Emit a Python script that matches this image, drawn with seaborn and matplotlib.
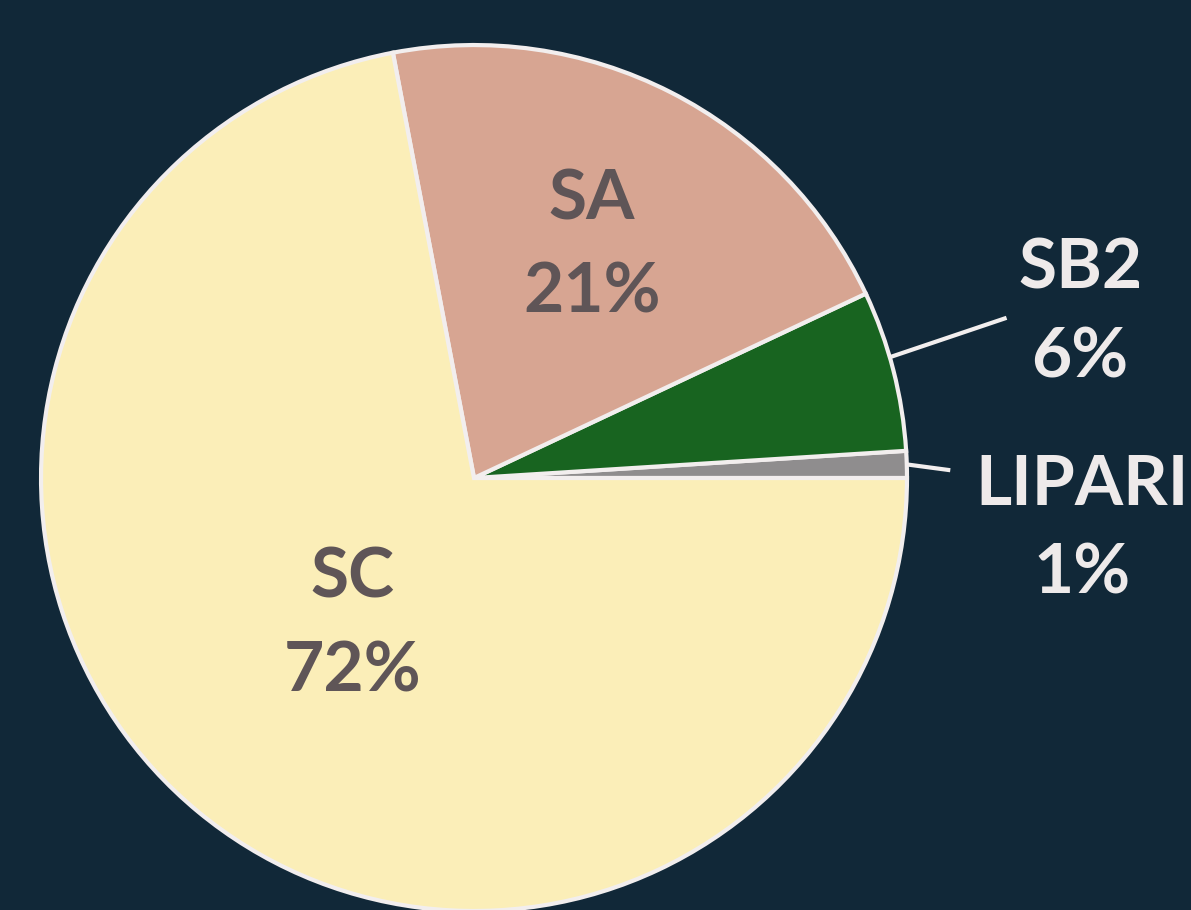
import numpy as np
import matplotlib
matplotlib.use("Agg")
import matplotlib.pyplot as plt
import seaborn as sns

sns.set_theme(style="white")
plt.rcParams['font.family'] = ['Lato', 'DejaVu Sans']

# data (counter-clockwise from 3 o'clock)
categories = ["LIPARI", "SB2", "SA", "SC"]
shares = [1, 6, 21, 72]
colors = ["#8f8d8e", "#186420", "#d7a592", "#fbeeb8"]

bg = "#112838"
edge = "#f2eeee"
dark_txt = "#5f5557"
light_txt = "#eeeaea"

fig = plt.figure(figsize=(11.91, 9.10), dpi=100, facecolor=bg)
ax = fig.add_axes([0, 0, 1, 1])
ax.set_facecolor(bg)

wedges, _ = ax.pie(shares, colors=colors, startangle=0, counterclock=True,
                   wedgeprops=dict(edgecolor=edge, linewidth=3))

# label style per slice: inside at radius r, or outside with leader
inside_r = {"SA": 0.60, "SC": 0.44}
outside = {"SB2": ((1.23, 0.37), (1.40, 0.38)),
           "LIPARI": ((1.10, 0.018), (1.405, -0.12))}

for w, name, val in zip(wedges, categories, shares):
    mid = np.deg2rad((w.theta1 + w.theta2) / 2)
    label = f"{name}\n{val}%"
    if name in inside_r:
        r = inside_r[name]
        ax.text(r * np.cos(mid), r * np.sin(mid), label, ha="center", va="center",
                fontsize=50, fontweight="bold", color=dark_txt, linespacing=1.6)
    else:
        end, txt = outside[name]
        if name == "SB2":
            mid += np.deg2rad(1.8)
        start = (np.cos(mid), np.sin(mid))
        ax.plot([start[0], end[0]], [start[1], end[1]], color=edge, lw=3,
                solid_capstyle="butt")
        ax.text(txt[0], txt[1], label, ha="center", va="center",
                fontsize=50, fontweight="bold", color=light_txt, linespacing=1.5)

ax.set_xlim(-1.0947, 1.6559)
ax.set_ylim(-0.9977, 1.104)
ax.set_aspect("equal")
ax.axis("off")

fig.savefig("out.png", dpi=100, facecolor=bg)
